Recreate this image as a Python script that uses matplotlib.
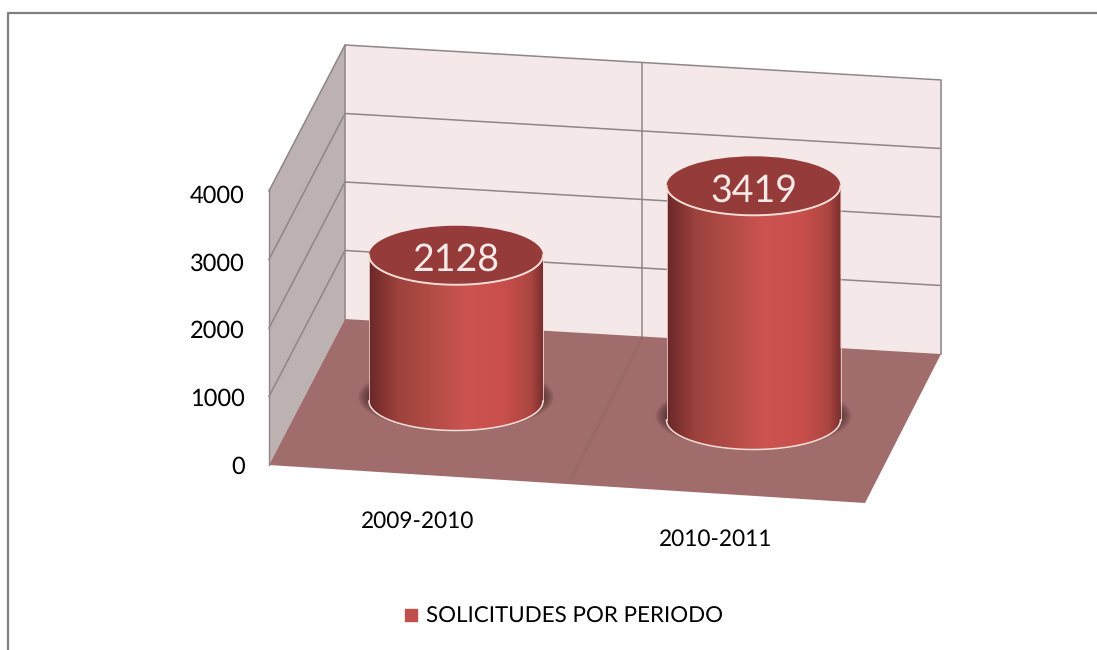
#!/usr/bin/env python3
"""Solicitudes por periodo: fake 3D cylinder chart drawn on pixel axes."""

import numpy as np
import matplotlib
matplotlib.use('Agg')
import matplotlib.pyplot as plt
from matplotlib.colors import LinearSegmentedColormap
from matplotlib.lines import Line2D
from matplotlib.patches import Ellipse, Polygon, PathPatch
from matplotlib.path import Path

# Data
categories = ['2009-2010', '2010-2011']
values = [2128, 3419]
y_ticks = [0, 1000, 2000, 3000, 4000]
series_name = 'SOLICITUDES POR PERIODO'

# Colors
wall_color = '#f5e8e8'
side_color = '#bdb2b2'
floor_color = '#a06c6c'
grid_color = '#8f8686'
top_color = '#953b39'
edge_light = '#f6dfd8'
bar_cmap = LinearSegmentedColormap.from_list('cyl', [
    (0.0, '#6a2828'), (0.07, '#803230'), (0.16, '#9c413c'), (0.30, '#ab4943'),
    (0.55, '#cb5350'), (0.78, '#c94f4c'), (0.93, '#ab4641'), (1.0, '#7c2e2e')])

PX_PER_UNIT = 0.0685
plt.rcParams['font.family'] = ['Lato', 'DejaVu Sans']
plt.rcParams['text.hinting'] = 'none'

fig = plt.figure(figsize=(10.97, 6.5), dpi=100)
ax = fig.add_axes([0, 0, 1, 1])
ax.axis('off')

# Outer chart frame
ax.plot([8, 8, 1097], [650, 13, 13], color='#7f7f7f', lw=1.6, zorder=1)

# Walls and floor
ax.add_patch(Polygon([(345, 45), (941, 81), (941, 354), (345, 319)], fc=wall_color, ec='none', zorder=1))
ax.add_patch(Polygon([(269, 190), (345, 45), (345, 319), (269, 465)], fc=side_color, ec='none', zorder=1))
ax.add_patch(Polygon([(345, 319), (941, 354), (865, 503), (269, 465)], fc=floor_color, ec='none', zorder=2))

# Gridlines, one per tick
for tick in y_ticks[1:]:
    h = tick * PX_PER_UNIT
    ax.plot([269, 345, 941], [465 - h, 319 - h, 354 - h], color=grid_color, lw=1.1, zorder=2)
ax.plot([345, 345], [45, 319], color=grid_color, lw=1.1, zorder=2)
ax.plot([941, 941], [81, 354], color='#9a9494', lw=1.3, zorder=2)
ax.plot([269, 269], [190, 465], color=grid_color, lw=1.0, zorder=2)
ax.plot([642, 642], [63, 337], color=grid_color, lw=1.1, zorder=2)
ax.plot([642, 571], [338, 479], color='#98696a', lw=1.8, zorder=3)

# Cylinders
centers = [456, 753.5]
base_y = [401, 420]
half_w = 87
half_h = 29.5
theta = np.linspace(0, np.pi, 80)
for i, val in enumerate(values):
    cx, by = centers[i], base_y[i]
    ty = by - val * PX_PER_UNIT

    # soft shadow on the floor
    for k in range(12):
        ax.add_patch(Ellipse((cx, by - 4), 2 * half_w + 22 - k * 2.5, 2 * half_h + 8 - k * 1.5,
                             fc='#301414', ec='none', alpha=0.08, zorder=4))

    arc_x = cx + half_w * np.cos(theta)
    arc_y = by + half_h * np.sin(theta)
    body = list(zip(arc_x, arc_y)) + [(cx - half_w, ty), (cx + half_w, ty)]
    body_path = PathPatch(Path(body + [body[0]], closed=True), fc='none', ec='none',
                          transform=ax.transData, zorder=5)
    ax.add_patch(body_path)
    img = ax.imshow(np.linspace(0, 1, 256).reshape(1, -1), cmap=bar_cmap, aspect='auto',
                    extent=(cx - half_w, cx + half_w, by + half_h, ty), zorder=5)
    img.set_clip_path(body_path)

    # outline highlights
    ax.plot(arc_x, arc_y, color=edge_light, lw=1.1, zorder=6)
    ax.plot([cx - half_w, cx - half_w], [ty, by], color=edge_light, lw=0.7, alpha=0.8, zorder=6)
    ax.plot([cx + half_w, cx + half_w], [ty, by], color=edge_light, lw=0.7, alpha=0.8, zorder=6)

    # top cap
    ax.add_patch(Ellipse((cx, ty), 2 * half_w, 2 * half_h, fc=top_color, ec='none', zorder=7))
    ax.plot(cx + half_w * np.cos(theta), ty + half_h * np.sin(theta), color=edge_light, lw=1.4, zorder=8)
    ax.text(cx, ty + 5, str(val), ha='center', va='center', fontsize=27, color='#f6e9e8', zorder=9)

# Value axis labels
for tick in y_ticks:
    ax.text(245, 467 - tick * 0.0678, str(tick), ha='right', va='center', fontsize=17, color='black')

# Category labels
cat_x = [418, 716]
cat_y = [521, 539]
for i, cat in enumerate(categories):
    ax.text(cat_x[i], cat_y[i], cat, ha='center', va='center', fontsize=16.3, color='black')

# Legend
handle = Line2D([], [], ls='none', marker='s', ms=9, color='#c0504d')
ax.legend([handle], [series_name], loc='center', bbox_to_anchor=(556, 617),
          bbox_transform=ax.transData, frameon=False, fontsize=16.1, handletextpad=-0.36)

ax.set_xlim(0, 1097)
ax.set_ylim(650, 0)

plt.savefig('out.png', dpi=100)
